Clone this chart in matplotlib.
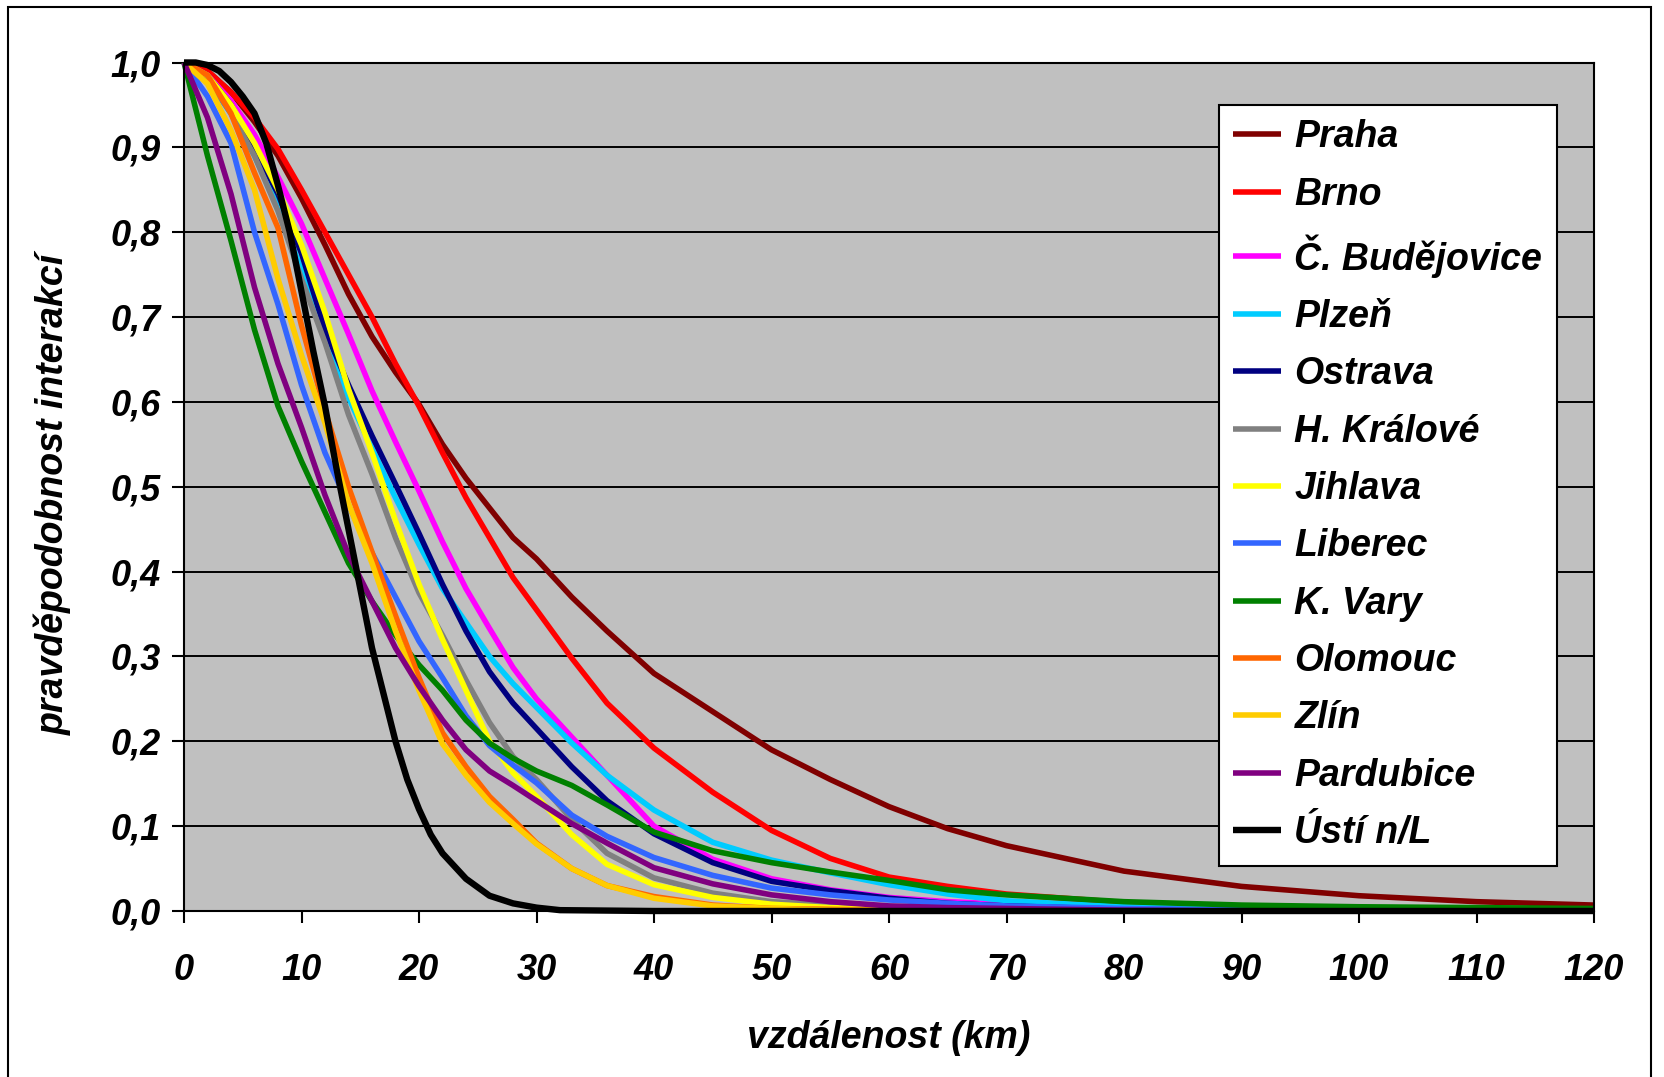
import matplotlib
matplotlib.use('Agg')
import matplotlib.pyplot as plt
from matplotlib.ticker import FuncFormatter, MultipleLocator
from matplotlib.patches import Rectangle

plt.rcParams['font.family'] = ['Liberation Sans', 'DejaVu Sans']
plt.rcParams['font.weight'] = 'bold'
plt.rcParams['font.style'] = 'italic'

# vzdalenost (km) - common grid
km = [0, 2, 4, 6, 8, 10, 12, 14, 16, 18, 20, 22, 24, 26, 28, 30, 33, 36,
      40, 45, 50, 55, 60, 65, 70, 80, 90, 100, 110, 120]

praha = [1.0, 0.99, 0.965, 0.93, 0.89, 0.84, 0.785, 0.727, 0.677, 0.635, 0.597, 0.55,
         0.51, 0.475, 0.44, 0.415, 0.37, 0.33, 0.28, 0.235, 0.19, 0.155, 0.123,
         0.097, 0.077, 0.047, 0.029, 0.018, 0.011, 0.007]
brno = [1.0, 0.99, 0.965, 0.935, 0.898, 0.85, 0.80, 0.75, 0.70, 0.645, 0.595, 0.54,
        0.487, 0.44, 0.393, 0.355, 0.298, 0.245, 0.192, 0.14, 0.095, 0.062, 0.04,
        0.029, 0.02, 0.01, 0.005, 0.003, 0.002, 0.001]
budejovice = [1.0, 0.985, 0.955, 0.915, 0.865, 0.81, 0.745, 0.68, 0.613, 0.553, 0.495,
              0.435, 0.38, 0.333, 0.287, 0.25, 0.205, 0.16, 0.1, 0.061, 0.038, 0.025,
              0.016, 0.011, 0.008, 0.004, 0.002, 0.001, 0.001, 0.0]
plzen = [1.0, 0.98, 0.94, 0.89, 0.83, 0.755, 0.68, 0.605, 0.545, 0.487, 0.432, 0.38,
         0.34, 0.30, 0.268, 0.24, 0.198, 0.16, 0.119, 0.081, 0.06, 0.045, 0.031,
         0.02, 0.012, 0.005, 0.002, 0.001, 0.0, 0.0]
ostrava = [1.0, 0.985, 0.95, 0.9, 0.845, 0.775, 0.685, 0.62, 0.56, 0.503, 0.445, 0.385,
           0.33, 0.282, 0.245, 0.215, 0.17, 0.13, 0.091, 0.057, 0.035, 0.024, 0.015,
           0.009, 0.006, 0.002, 0.001, 0.0, 0.0, 0.0]
hradec = [1.0, 0.98, 0.94, 0.89, 0.825, 0.745, 0.67, 0.585, 0.515, 0.44, 0.375, 0.325,
          0.272, 0.222, 0.182, 0.155, 0.108, 0.068, 0.039, 0.021, 0.011, 0.007, 0.004,
          0.003, 0.002, 0.001, 0.0, 0.0, 0.0, 0.0]
jihlava = [1.0, 0.985, 0.95, 0.905, 0.85, 0.785, 0.705, 0.615, 0.54, 0.46, 0.385, 0.32,
           0.26, 0.2, 0.163, 0.135, 0.09, 0.055, 0.031, 0.016, 0.008, 0.004, 0.002,
           0.001, 0.001, 0.0, 0.0, 0.0, 0.0, 0.0]
liberec = [1.0, 0.96, 0.905, 0.80, 0.715, 0.62, 0.54, 0.478, 0.422, 0.37, 0.318, 0.275,
           0.23, 0.195, 0.172, 0.151, 0.113, 0.088, 0.063, 0.042, 0.027, 0.019, 0.013,
           0.009, 0.006, 0.003, 0.001, 0.0, 0.0, 0.0]
kvary = [1.0, 0.89, 0.79, 0.685, 0.595, 0.53, 0.47, 0.41, 0.365, 0.325, 0.29, 0.26,
         0.225, 0.198, 0.18, 0.165, 0.148, 0.125, 0.093, 0.071, 0.057, 0.046, 0.036,
         0.025, 0.019, 0.011, 0.007, 0.005, 0.004, 0.003]
olomouc = [1.0, 0.985, 0.94, 0.87, 0.805, 0.69, 0.59, 0.50, 0.423, 0.348, 0.275, 0.21,
           0.17, 0.135, 0.108, 0.08, 0.05, 0.03, 0.017, 0.007, 0.003, 0.002, 0.001,
           0.0, 0.0, 0.0, 0.0, 0.0, 0.0, 0.0]
zlin = [1.0, 0.975, 0.92, 0.85, 0.745, 0.655, 0.575, 0.48, 0.41, 0.33, 0.26, 0.197,
        0.16, 0.128, 0.103, 0.079, 0.05, 0.03, 0.015, 0.006, 0.003, 0.001, 0.001,
        0.0, 0.0, 0.0, 0.0, 0.0, 0.0, 0.0]
pardubice = [1.0, 0.935, 0.845, 0.735, 0.645, 0.57, 0.49, 0.42, 0.365, 0.31, 0.265,
             0.225, 0.19, 0.165, 0.148, 0.13, 0.103, 0.08, 0.051, 0.032, 0.019, 0.011,
             0.006, 0.004, 0.003, 0.001, 0.0, 0.0, 0.0, 0.0]

# Usti has a much steeper drop, read at 1 km steps
km_usti = [0, 1, 2, 3, 4, 5, 6, 7, 8, 9, 10, 11, 12, 13, 14, 15, 16, 17, 18, 19,
           20, 21, 22, 24, 26, 28, 30, 32, 40, 60, 80, 100, 120]
usti = [1.0, 1.0, 0.997, 0.99, 0.977, 0.96, 0.94, 0.905, 0.855, 0.80, 0.73, 0.66,
        0.595, 0.52, 0.45, 0.38, 0.31, 0.255, 0.2, 0.155, 0.12, 0.09, 0.068, 0.038,
        0.018, 0.009, 0.004, 0.001, 0.0, 0.0, 0.0, 0.0, 0.0]

names = ['Praha', 'Brno', 'Č. Budějovice', 'Plzeň', 'Ostrava', 'H. Králové',
         'Jihlava', 'Liberec', 'K. Vary', 'Olomouc', 'Zlín', 'Pardubice']
series = [praha, brno, budejovice, plzen, ostrava, hradec,
          jihlava, liberec, kvary, olomouc, zlin, pardubice]
colors = ['#800000', '#FF0000', '#FF00FF', '#00CCFF', '#000080', '#808080',
          '#FFFF00', '#3366FF', '#008000', '#FF6600', '#FFCC00', '#800080']

W, H = 1664, 1077
fig = plt.figure(figsize=(W / 100, H / 100), dpi=100)
ax = fig.add_axes([184 / W, 1 - 911 / H, (1594 - 184) / W, (911 - 62.5) / H])
ax.set_facecolor('#C0C0C0')

for name, vals, col in zip(names, series, colors):
    ax.plot(km, vals, color=col, lw=4.0, label=name, clip_on=False,
            solid_joinstyle='round', solid_capstyle='butt')
ax.plot(km_usti, usti, color='black', lw=4.6, label='Ústí n/L', clip_on=False,
        solid_joinstyle='round', solid_capstyle='butt')

ax.set_xlim(0, 120)
ax.set_ylim(0, 1.0)
ax.xaxis.set_major_locator(MultipleLocator(10))
ax.yaxis.set_major_locator(MultipleLocator(0.1))
ax.yaxis.set_major_formatter(FuncFormatter(lambda v, p: f'{v:.1f}'.replace('.', ',')))
ax.yaxis.grid(True, color='black', lw=1.4)
ax.set_axisbelow(True)

for s in ax.spines.values():
    s.set_color('black')
    s.set_linewidth(1.5)

ax.tick_params(axis='both', direction='out', length=8.6, width=1.5, labelsize=26)
ax.tick_params(axis='x', pad=22)
ax.tick_params(axis='y', pad=8)

fig.text(889 / W, 1 - 1038 / H, 'vzdálenost (km)', ha='center', va='center',
         fontsize=27, fontweight='bold', fontstyle='italic')
fig.text(53 / W, 1 - 494 / H, 'pravděpodobnost interakcí', ha='center', va='center',
         rotation=90, fontsize=27, fontweight='bold', fontstyle='italic')

leg = ax.legend(loc='upper left', bbox_to_anchor=(1219 / W, 1 - 105 / H),
                bbox_transform=fig.transFigure, frameon=True, fancybox=False,
                edgecolor='black', framealpha=1, borderaxespad=0,
                prop={'size': 27, 'weight': 'bold', 'style': 'italic'},
                handlelength=1.28, handletextpad=0.35, labelspacing=0.57,
                borderpad=0.38)
leg.get_frame().set_linewidth(1.5)

# outer frame around the chart
fig.patches.append(Rectangle((8 / W, -0.01), (1651 - 8) / W, 1.01 - 7 / H,
                             transform=fig.transFigure, fill=False,
                             edgecolor='black', lw=1.5))

fig.savefig('out.png', dpi=100)
